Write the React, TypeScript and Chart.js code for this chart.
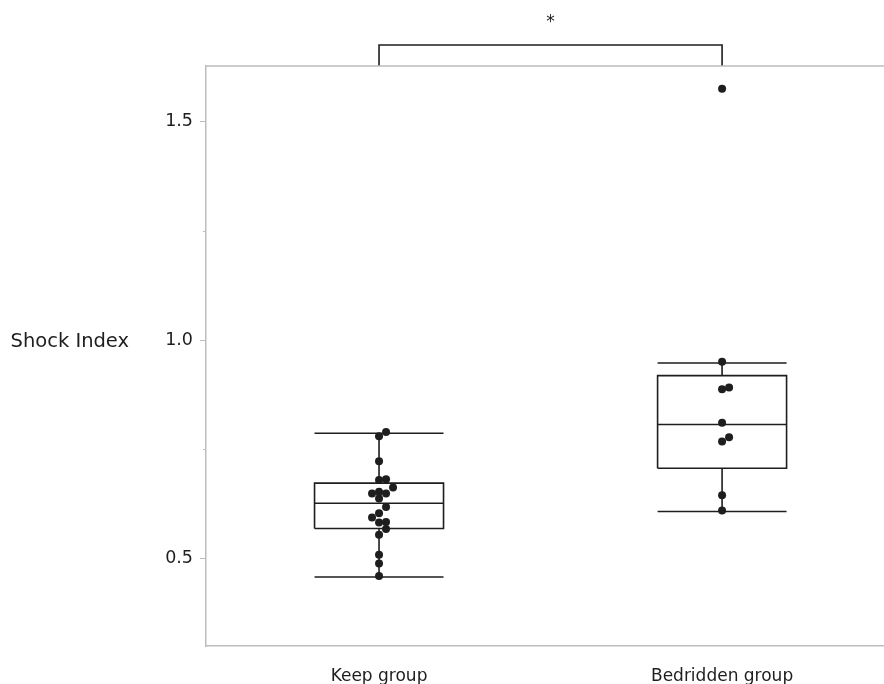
import React, { useEffect, useRef } from "react";
import { Chart, registerables } from "chart.js";

Chart.register(...registerables);

// ---- data ----
const categories = ["Keep group", "Bedridden group"];
const keepValues = [
  0.79, 0.78, 0.723, 0.682, 0.68, 0.663, 0.653, 0.649, 0.649, 0.638,
  0.618, 0.604, 0.594, 0.584, 0.583, 0.568, 0.555, 0.509, 0.489, 0.46,
];
const bedriddenValues = [1.576, 0.951, 0.892, 0.888, 0.811, 0.778, 0.768, 0.645, 0.61];
// [lower whisker, Q1, median, Q3, upper whisker]
const keepBox = [0.458, 0.569, 0.627, 0.673, 0.787];
const bedriddenBox = [0.608, 0.707, 0.807, 0.919, 0.948];
const yMajorTicks = [0.5, 1.0, 1.5];
const yMinorTicks = [0.75, 1.25];
const yAxisTitle = "Shock Index";
const significanceLabel = "*";

const Y_MIN = 0.3;
const Y_MAX = 1.628;
const X_MIN = 0.4956;
const X_MAX = 2.472;
const BOX_HALF = 0.188;
const BRACKET_RISE = 0.048;
const FONT = "'DejaVu Sans', sans-serif";
const INK = "#1e1e1e";
const AXIS = "#bdbdbd";

function boxShape(center: number, s: number[]) {
  const [lo, q1, med, q3, hi] = s;
  const l = center - BOX_HALF;
  const r = center + BOX_HALF;
  const gap = { x: center, y: null as any };
  return [
    { x: l, y: q1 }, { x: r, y: q1 }, { x: r, y: q3 }, { x: l, y: q3 }, { x: l, y: q1 }, gap,
    { x: l, y: med }, { x: r, y: med }, gap,
    { x: center, y: q3 }, { x: center, y: hi }, gap,
    { x: center, y: q1 }, { x: center, y: lo }, gap,
    { x: l, y: hi }, { x: r, y: hi }, gap,
    { x: l, y: lo }, { x: r, y: lo },
  ];
}

const decorPlugin = {
  id: "decor",
  afterDraw(chart: any) {
    const { ctx, chartArea, scales } = chart;
    const ys = scales.y;
    const xs = scales.x;
    ctx.save();
    // top frame line
    ctx.strokeStyle = AXIS;
    ctx.lineWidth = 1.5;
    ctx.beginPath();
    ctx.moveTo(chartArea.left, chartArea.top);
    ctx.lineTo(chartArea.right, chartArea.top);
    ctx.stroke();
    // minor ticks
    ctx.lineWidth = 1;
    yMinorTicks.forEach((v) => {
      const py = Math.round(ys.getPixelForValue(v)) + 0.5;
      ctx.beginPath();
      ctx.moveTo(chartArea.left - 3, py);
      ctx.lineTo(chartArea.left, py);
      ctx.stroke();
    });
    // y axis title (horizontal)
    ctx.fillStyle = INK;
    ctx.font = `19.5px ${FONT}`;
    ctx.textAlign = "left";
    ctx.textBaseline = "alphabetic";
    ctx.fillText(yAxisTitle, 10.5, ys.getPixelForValue(1.0) + 6.5);
    // significance star
    ctx.font = `17px ${FONT}`;
    ctx.textAlign = "center";
    ctx.textBaseline = "middle";
    const mid = (xs.getPixelForValue(1) + xs.getPixelForValue(2)) / 2;
    ctx.fillText(significanceLabel, mid, ys.getPixelForValue(Y_MAX + BRACKET_RISE) - 22);
    ctx.restore();
  },
};

export default function App() {
  const ref = useRef<HTMLCanvasElement>(null);
  useEffect(() => {
    const canvas = ref.current!;
    const lineStyle = {
      type: "line" as const,
      showLine: true,
      borderColor: INK,
      borderWidth: 1.6,
      pointRadius: 0,
      fill: false,
      spanGaps: false,
      order: 2,
    };
    const dotStyle = {
      type: "scatter" as const,
      pointRadius: 4,
      pointBackgroundColor: INK,
      pointBorderWidth: 0,
      order: 0,
    };
    const chart = new Chart(canvas, {
      type: "scatter",
      data: {
        datasets: [
          { ...lineStyle, data: boxShape(1, keepBox) } as any,
          { ...lineStyle, data: boxShape(2, bedriddenBox) } as any,
          {
            ...lineStyle,
            clip: false,
            data: [
              { x: 1, y: Y_MAX },
              { x: 1, y: Y_MAX + BRACKET_RISE },
              { x: 2, y: Y_MAX + BRACKET_RISE },
              { x: 2, y: Y_MAX },
            ],
          } as any,
          { ...dotStyle, data: keepValues.map((v) => ({ x: 1, y: v })) } as any,
          { ...dotStyle, data: bedriddenValues.map((v) => ({ x: 2, y: v })) } as any,
        ],
      },
      options: {
        responsive: false,
        animation: false,
        events: [],
        layout: { padding: { top: 66, left: 0, right: 0, bottom: 0 } },
        plugins: { legend: { display: false }, tooltip: { enabled: false } },
        scales: {
          x: {
            type: "linear",
            min: X_MIN,
            max: X_MAX,
            afterBuildTicks: (s: any) => {
              s.ticks = categories.map((_, i) => ({ value: i + 1 }));
            },
            afterFit: (s: any) => {
              s.height = 38;
            },
            grid: { display: false, drawTicks: false },
            border: { display: true, color: AXIS, width: 1.5 },
            ticks: {
              autoSkip: false,
              maxRotation: 0,
              padding: 20,
              color: INK,
              font: { family: FONT, size: 17 },
              callback: (v: any) => categories[Math.round(v) - 1] ?? "",
            },
          },
          y: {
            type: "linear",
            min: Y_MIN,
            max: Y_MAX,
            afterBuildTicks: (s: any) => {
              s.ticks = yMajorTicks.map((v) => ({ value: v }));
            },
            afterFit: (s: any) => {
              s.width = 206;
            },
            grid: {
              display: true,
              drawOnChartArea: false,
              drawTicks: true,
              tickLength: 6,
              tickColor: AXIS,
              tickWidth: 1,
            },
            border: { display: true, color: AXIS, width: 1.5 },
            ticks: {
              padding: 7,
              color: INK,
              font: { family: FONT, size: 17.5 },
              callback: (v: any) => Number(v).toFixed(1),
            },
          },
        },
      },
      plugins: [decorPlugin],
    } as any);

    // beeswarm placement of dots via the chart's own scales
    const swarm = (values: number[], center: number) => {
      const xs = chart.scales.x;
      const ys = chart.scales.y;
      const cx = xs.getPixelForValue(center);
      const step = 7;
      const diam = 6.5;
      const placed: number[][] = [];
      return values
        .slice()
        .sort((a, b) => a - b)
        .map((v) => {
          const py = ys.getPixelForValue(v);
          for (const k of [0, 1, -1, 2, -2, 3, -3]) {
            const px = cx + k * step;
            if (placed.every((p) => Math.hypot(p[0] - px, p[1] - py) >= diam)) {
              placed.push([px, py]);
              return { x: xs.getValueForPixel(px), y: v };
            }
          }
          return { x: center, y: v };
        });
    };
    chart.data.datasets[3].data = swarm(keepValues, 1) as any;
    chart.data.datasets[4].data = swarm(bedriddenValues, 2) as any;
    chart.update("none");

    return () => chart.destroy();
  }, []);

  return (
    <div
      style={{
        position: "absolute",
        left: 0,
        top: 0,
        width: 884,
        height: 684,
        overflow: "hidden",
        background: "#fff",
      }}
    >
      <canvas ref={ref} width={888} height={684} style={{ display: "block" }} />
    </div>
  );
}
